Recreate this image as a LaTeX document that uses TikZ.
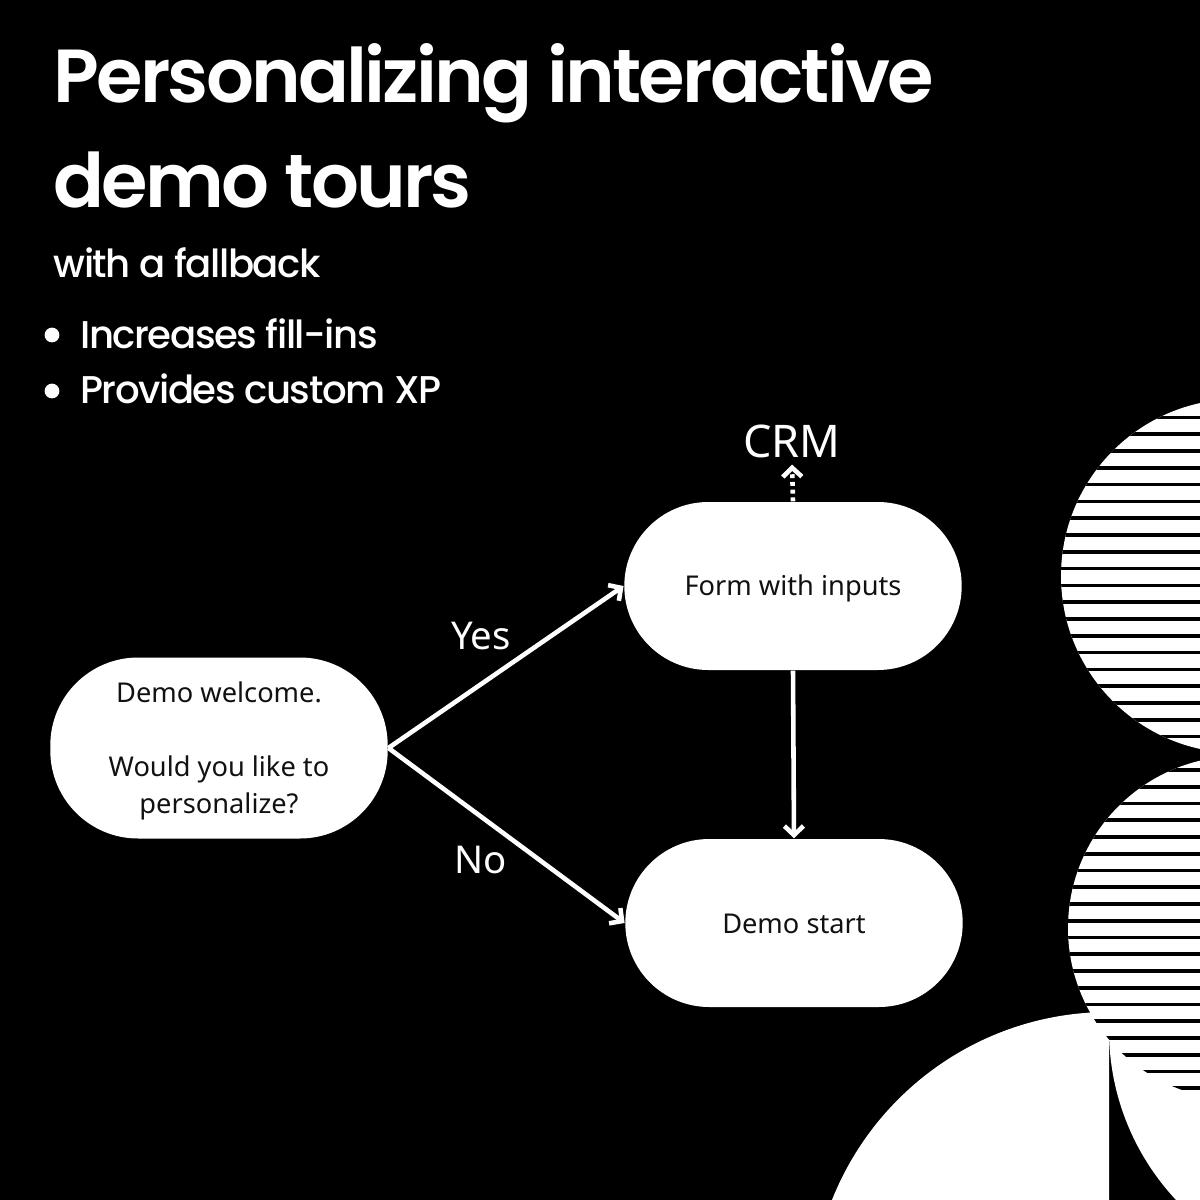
\documentclass[tikz,border=0pt]{standalone}
\usepackage{fontspec}
\usepackage{tikz}
\usetikzlibrary{arrows.meta}
\setmainfont{Noto Sans}
\newfontfamily\headfont{Poppins}[BoldFont={* SemiBold},ItalicFont={* Medium},LetterSpace=-3.7]
\definecolor{ink}{HTML}{111111}
\tikzset{
  stepbox/.style={draw=none,fill=white,text=ink,align=center,minimum width=96pt,inner sep=0pt,font=\fontsize{7.75}{10.55}\selectfont},
  flow/.style={white,line width=1.3pt,-{Straight Barb[length=2.6pt,width=5.4pt,line width=1.3pt]}},
  answer/.style={text=white,inner sep=0pt,font=\fontsize{10.9}{13}\selectfont},
  headline/.style={text=white,inner sep=0pt,anchor=west,font=\headfont\bfseries\fontsize{21.4}{26}\selectfont},
  subline/.style={text=white,inner sep=0pt,anchor=west,font=\headfont\itshape\fontsize{11}{13}\selectfont},
  dot/.style={circle,fill=white,inner sep=0pt,minimum size=4.2pt}
}
\begin{document}
\begin{tikzpicture}[x=0.1mm,y=-0.1mm]
  \useasboundingbox (0,0) rectangle (1200,1200);
  \fill[black] (0,0) rectangle (1200,1200);

  % shapes on the right
  \fill[white] (1358,1030) circle (249);
  \begin{scope}
    \clip (0,0) rectangle (1109,1200);
    \fill[white] (1109,1310) circle (298);
  \end{scope}
  \begin{scope}
    \clip (1240,928) circle (172);
    \fill[white] (1240,928) circle (172);
    \foreach \i in {0,...,19}
      \fill[black] (1060,{770+16.75*\i-1.8}) rectangle (1200,{770+16.75*\i+1.8});
  \end{scope}
  \begin{scope}
    \clip (1238,576) circle (177);
    \fill[white] (1238,576) circle (177);
    \foreach \i in {0,...,19}
      \fill[black] (1050,{417.3+16.8*\i-1.8}) rectangle (1200,{417.3+16.8*\i+1.8});
  \end{scope}

  % heading
  \node[headline] (title1) at (53,83) {Personalizing interactive};
  \node[headline] (title2) at (53,180) {demo tours};
  \node[subline] (sub) at (53,263) {with a fallback};
  \node[dot] (dot1) at (52,335) {};
  \node[dot] (dot2) at (52,391) {};
  \node[subline] (item1) at (79.5,334) {Increases fill-ins};
  \node[subline] (item2) at (79.5,389) {Provides custom XP};

  % flow
  \node[stepbox,minimum height=51.5pt,rounded corners=25pt] (welcome) at (219,748)
    {\rule{0pt}{7.7pt}Demo welcome.\\[10.55pt]Would you like to\\personalize?};
  \node[stepbox,minimum height=47.8pt,rounded corners=23.9pt] (form) at (793,586) {\raisebox{-2.56pt}[0pt][0pt]{Form with inputs}};
  \node[stepbox,minimum height=47.8pt,rounded corners=23.9pt] (start) at (794,923) {\raisebox{-2.85pt}[0pt][0pt]{Demo start}};
  \node[answer,font=\fontsize{12.8}{15}\selectfont,outer ysep=2pt] (crm) at (792,441) {CRM};
  \node[answer] (yes) at (481,636) {Yes};
  \node[answer] (no) at (481,860) {No};

  \foreach \from/\to in {welcome.east/form.west,welcome.east/start.west,form.south/start.north}
    \draw[flow] (\from) -- (\to);
  \draw[flow,dash pattern=on 1.1pt off 1.1pt] (form.north) -- (crm.south);
\end{tikzpicture}
\end{document}
